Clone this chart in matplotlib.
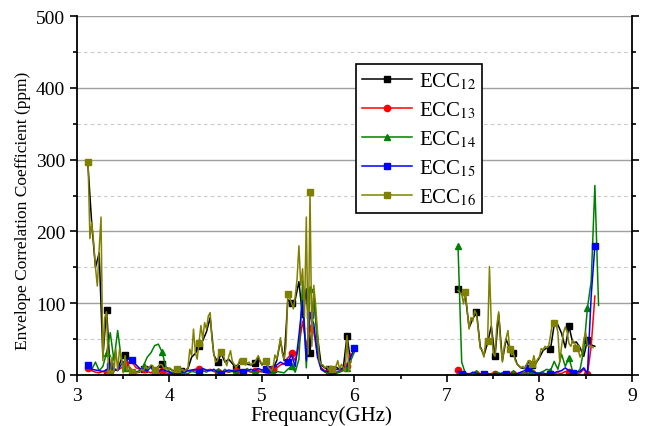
import numpy as np
import matplotlib.pyplot as plt
from matplotlib.ticker import MultipleLocator

plt.rcParams['font.family'] = ['Liberation Serif', 'DejaVu Serif']
plt.rcParams['mathtext.fontset'] = 'stix'

# ---- measured ECC (ppm), two bands: low band from 3.12 GHz, high band from 7.12 GHz ----
# ECC12 / 13 / 14 / 15 sampled every 0.04 GHz, ECC16 every 0.02 GHz
ecc12_low = [290, 210, 150, 170, 25, 91, 5, 6, 8, 22, 28, 12, 5, 4, 6, 8, 10, 12, 8, 12,
             15, 10, 9, 6, 8, 6, 6, 9, 25, 30, 40, 48, 60, 80, 28, 18, 30, 18, 22, 16,
             10, 18, 18, 15, 14, 17, 24, 14, 18, 8, 9, 20, 48, 20, 105, 100, 105, 130, 80, 120,
             30, 110, 55, 14, 10, 8, 7, 11, 8, 10, 55, 18]
ecc12_high = [120, 112, 110, 66, 78, 88, 40, 27, 45, 68, 26, 85, 20, 50, 36, 30, 15, 10, 9, 18,
              14, 16, 24, 34, 38, 36, 70, 70, 58, 38, 68, 45, 46, 38, 26, 49, 42, 40]

ecc13_low = [10, 6, 4, 3, 5, 4, 6, 8, 7, 10, 15, 18, 17, 10, 8, 9, 5, 3, 6, 4,
             5, 3, 2, 2, 3, 4, 5, 6, 5, 7, 8, 5, 6, 8, 5, 4, 3, 5, 4, 6,
             5, 4, 5, 6, 4, 5, 6, 4, 5, 6, 8, 10, 14, 16, 24, 30, 20, 40, 75, 40,
             65, 60, 30, 10, 6, 4, 3, 4, 5, 8, 12, 30]
ecc13_high = [7, 2, 1, 2, 1, 1, 2, 1, 1, 2, 1, 2, 1, 1, 2, 1, 2, 3, 2, 5,
              3, 2, 2, 1, 2, 1, 2, 3, 2, 5, 4, 3, 2, 3, 8, 1, 40, 110]

ecc14_low = [13, 8, 18, 6, 12, 31, 59, 20, 62, 22, 10, 6, 5, 3, 4, 13, 25, 31, 41, 43,
             32, 12, 5, 3, 2, 4, 3, 2, 5, 4, 3, 6, 4, 7, 5, 6, 3, 8, 4, 5,
             3, 6, 4, 9, 5, 3, 4, 6, 3, 2, 3, 5, 4, 3, 8, 12, 4, 22, 131, 10,
             120, 117, 40, 8, 4, 2, 3, 2, 4, 6, 10, 20, 32]
ecc14_high = [180, 18, 2, 1, 2, 3, 1, 2, 1, 2, 1, 3, 1, 2, 1, 3, 1, 2, 3, 2,
              4, 2, 3, 5, 8, 6, 19, 8, 29, 12, 24, 5, 3, 8, 35, 94, 130, 264, 97]

ecc15_low = [14, 8, 7, 6, 5, 7, 12, 9, 6, 15, 20, 22, 21, 14, 9, 8, 6, 11, 2, 5,
             8, 6, 4, 1, 3, 5, 4, 6, 7, 8, 4, 9, 7, 6, 8, 4, 1, 5, 7, 6,
             5, 7, 4, 6, 8, 6, 9, 7, 8, 6, 10, 14, 18, 15, 18, 28, 12, 55, 104, 20,
             83, 72, 25, 8, 5, 5, 6, 8, 7, 10, 12, 25, 37]
ecc15_high = [5, 2, 3, 1, 4, 2, 1, 1, 2, 1, 2, 1, 3, 1, 2, 1, 2, 4, 6, 10,
              5, 3, 2, 3, 1, 1, 3, 5, 6, 10, 6, 3, 4, 5, 10, 2, 110, 180]

ecc16_low = [297, 190, 213, 185, 150, 124, 175, 220, 20, 80, 88, 5, 3, 25, 4, 36, 6, 36, 25, 3,
             27, 6, 12, 10, 4, 6, 3, 4, 5, 8, 6, 12, 9, 10, 14, 13, 7, 8, 12, 15,
             14, 9, 11, 7, 10, 8, 5, 6, 9, 7, 6, 8, 5, 8, 10, 36, 27, 64, 31, 22,
             45, 69, 50, 73, 64, 82, 87, 50, 29, 18, 20, 33, 32, 30, 20, 13, 25, 34, 19, 15,
             10, 14, 22, 18, 20, 14, 16, 18, 14, 16, 17, 22, 27, 20, 15, 18, 20, 12, 9, 6,
             10, 28, 22, 35, 52, 30, 22, 40, 113, 108, 100, 92, 110, 134, 180, 125, 148, 81, 220, 29,
             255, 40, 125, 99, 62, 20, 15, 14, 10, 12, 8, 8, 8, 5, 12, 20, 8, 15, 10, 5,
             55, 5, 20]
ecc16_high = [118, 115, 113, 99, 116, 90, 64, 80, 75, 90, 85, 62, 37, 35, 25, 48, 47, 151, 70, 30,
              26, 70, 88, 45, 18, 40, 51, 62, 36, 28, 30, 20, 15, 13, 10, 12, 9, 14, 20, 20,
              15, 27, 15, 22, 25, 37, 35, 40, 38, 40, 55, 72, 72, 72, 59, 18, 40, 59, 67, 60,
              44, 40, 48, 45, 38, 35, 25, 30, 49, 60, 41, 40, 40, 38]


def freqs(start, step, values):
    return start + step * np.arange(len(values))


series = [
    # label, low, high, step, color, marker, size, markevery low/high
    (r'ECC$_{12}$', ecc12_low, ecc12_high, 0.04, 'black', 's', 4, (5, 5), (0, 5)),
    (r'ECC$_{13}$', ecc13_low, ecc13_high, 0.04, 'red', 'o', 4.5, (0, 5), (0, 5)),
    (r'ECC$_{14}$', ecc14_low, ecc14_high, 0.04, 'green', '^', 5, (5, 5), (0, 5)),
    (r'ECC$_{15}$', ecc15_low, ecc15_high, 0.04, 'blue', 's', 4.5, (0, 6), (1, 6)),
    (r'ECC$_{16}$', ecc16_low, ecc16_high, 0.02, '#808000', 's', 4.5, (0, 12), (4, 12)),
]

fig = plt.figure(figsize=(6.49, 4.27), dpi=100)
ax = fig.add_axes([0.1186, 0.1194, 0.855, 0.8407])

for label, low, high, step, color, marker, ms, me_lo, me_hi in series:
    ax.plot(freqs(3.12, step, low), low, color=color, lw=1.1, marker=marker, ms=ms,
            markevery=me_lo, label=label)
    ax.plot(freqs(7.12, step, high), high, color=color, lw=1.1, marker=marker, ms=ms,
            markevery=me_hi)

ax.set_xlim(3, 9)
ax.set_ylim(0, 500)
ax.xaxis.set_major_locator(MultipleLocator(1))
ax.xaxis.set_minor_locator(MultipleLocator(0.5))
ax.yaxis.set_major_locator(MultipleLocator(100))
ax.yaxis.set_minor_locator(MultipleLocator(50))

ax.grid(True, which='major', axis='y', color='#a0a0a0', lw=1.0, ls='-')
ax.grid(True, which='minor', axis='y', color='#c8c8c8', lw=0.8, ls=(0, (3, 3)))
ax.set_axisbelow(True)

ax.tick_params(which='both', direction='out', labelsize=14, width=1.2, right=True)
ax.tick_params(which='major', length=5)
ax.tick_params(which='minor', length=3)
for side in ['left', 'bottom', 'right']:
    ax.spines[side].set_linewidth(1.3)
ax.spines['top'].set_visible(False)

ax.set_xlabel('Frequancy(GHz)', fontsize=15)
ax.xaxis.set_label_coords(0.44, -0.085)
ax.set_ylabel('Envelope Correlation Coefficient (ppm)', fontsize=12.5)
ax.yaxis.set_label_coords(-0.083, 0.46)

leg = ax.legend(loc='upper left', bbox_to_anchor=(0.503, 0.866), borderaxespad=0,
                fontsize=15, fancybox=False, framealpha=1, edgecolor='black',
                handlelength=2.4, handletextpad=0.3, labelspacing=0.40, borderpad=0.3)
leg.get_frame().set_linewidth(1.2)

fig.savefig('out.png', dpi=100)
